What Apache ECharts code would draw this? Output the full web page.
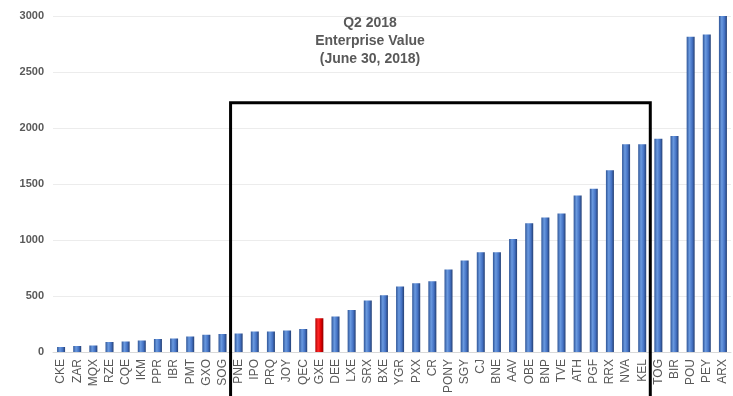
<!DOCTYPE html>
<html><head><meta charset="utf-8">
<script src="https://cdn.jsdelivr.net/npm/echarts@6/dist/echarts.min.js"></script>
<style>html,body{margin:0;padding:0;background:#fff}#c{width:733px;height:396px}</style>
</head><body><div id="c"></div>
<script>
const categories = ["CKE","ZAR","MQX","RZE","CQE","IKM","PPR","IBR","PMT","GXO","SOG","PNE","IPO","PRQ","JOY","QEC","GXE","DEE","LXE","SRX","BXE","YGR","PXX","CR","PONY","SGY","CJ","BNE","AAV","OBE","BNP","TVE","ATH","PGF","RRX","NVA","KEL","TOG","BIR","POU","PEY","ARX"];
const values = [44,53,59,89,94,103,115,121,139,154,160,165,183,183,192,206,301,316,374,460,507,584,613,631,737,817,891,891,1009,1150,1201,1236,1398,1457,1622,1856,1856,1903,1929,2814,2835,3000];
const highlight = "GXE";
const yTicks = [0,500,1000,1500,2000,2500,3000];
const titleLines = ["Q2 2018","Enterprise Value","(June 30, 2018)"];
const boxFirst = "PNE", boxLast = "KEL", boxTopValue = 2225;

const blue = {type:'linear',x:0,y:0,x2:1,y2:0,colorStops:[{offset:0,color:'#2f5597'},{offset:0.35,color:'#6a9ae0'},{offset:0.7,color:'#4472c4'},{offset:1,color:'#243f73'}]};
const red = {type:'linear',x:0,y:0,x2:1,y2:0,colorStops:[{offset:0,color:'#b00000'},{offset:0.35,color:'#ff2a2a'},{offset:0.7,color:'#e00000'},{offset:1,color:'#8a0000'}]};

const chart = echarts.init(document.getElementById('c'), null, {renderer:'canvas'});
chart.setOption({
  animation:false,
  textStyle:{fontFamily:'Liberation Sans, Arial, sans-serif'},
  title:{text:titleLines.join('\n'),left:365,top:9,textAlign:'center',
    textStyle:{fontSize:14,fontWeight:'bold',color:'#595959',lineHeight:18,fontFamily:'Liberation Sans, Arial, sans-serif'}},
  grid:{left:53,right:2,top:16,bottom:42,containLabel:false},
  xAxis:{type:'category',data:categories,
    axisLine:{show:true,lineStyle:{color:'#d9d9d9'}},axisTick:{show:false},
    axisLabel:{interval:0,rotate:90,color:'#595959',fontSize:12,margin:7,fontFamily:'Liberation Sans, Arial, sans-serif'}},
  yAxis:{type:'value',min:yTicks[0],max:yTicks[yTicks.length-1],interval:500,
    axisLine:{show:false},axisTick:{show:false},
    splitLine:{lineStyle:{color:'#ececec',width:1}},
    axisLabel:{color:'#595959',fontSize:11,fontWeight:'bold',margin:9,formatter:v=>String(v),fontFamily:'Liberation Sans, Arial, sans-serif'}},
  series:[{type:'bar',barWidth:8,
    data:values.map((v,i)=>({value:v,itemStyle:{color:categories[i]===highlight?red:blue}}))}]
});

function drawBox(){
  const i0 = categories.indexOf(boxFirst), i1 = categories.indexOf(boxLast);
  const p0 = chart.convertToPixel({gridIndex:0},[i0,boxTopValue]);
  const p1 = chart.convertToPixel({gridIndex:0},[i1,boxTopValue]);
  const pn = chart.convertToPixel({gridIndex:0},[i0+1,boxTopValue]);
  const half = (pn[0]-p0[0])/2;
  const x0 = p0[0]-half, x1 = p1[0]+half, y = p0[1];
  chart.setOption({graphic:[{type:'polyline',shape:{points:[[x0,400],[x0,y],[x1,y],[x1,400]]},
    style:{stroke:'#000',lineWidth:3,fill:null},z:100}]});
}
drawBox();
</script></body></html>
